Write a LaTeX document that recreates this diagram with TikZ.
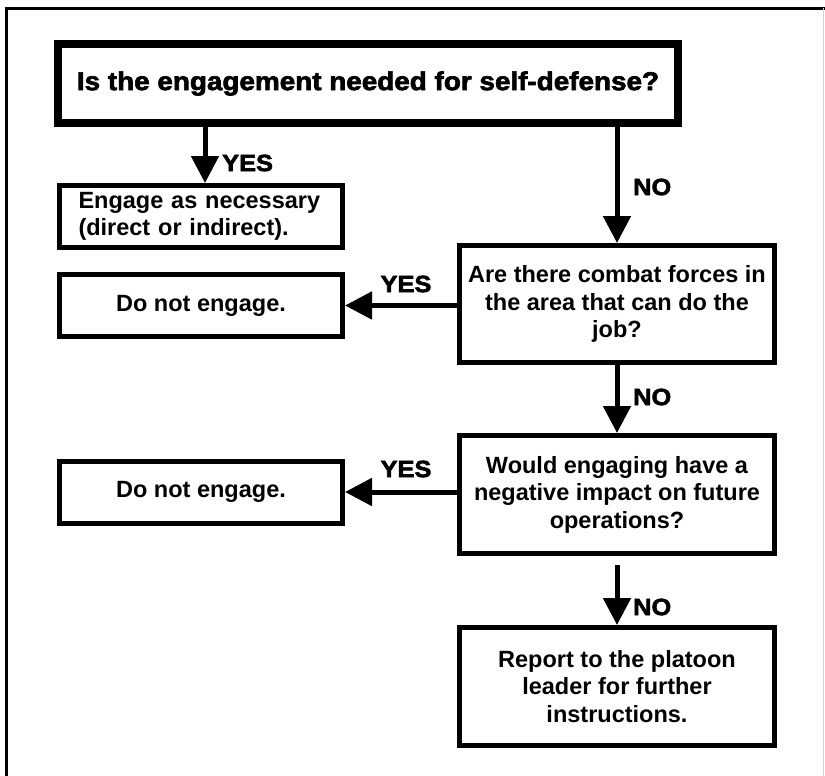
\documentclass[tikz,border=0pt]{standalone}
\usepackage{fontspec}
\setmainfont{Liberation Sans}
\newfontfamily\heavyfont{Liberation Sans}[BoldFeatures={FakeBold=2.5,FakeStretch=1.08}]
\usetikzlibrary{arrows.meta}
\begin{document}
\begin{tikzpicture}[x=1pt,y=-1pt,
  box/.style={draw,line width=5pt,minimum width=283pt,minimum height=62pt,inner sep=0pt,
    font=\fontsize{23.5}{27.5}\selectfont\bfseries},
  question/.style={box,minimum width=315pt,minimum height=117pt,align=center},
  arr/.style={line width=5pt,-{Triangle[length=27pt,width=27pt]}},
  lbl/.style={font=\fontsize{23.5}{26}\selectfont\heavyfont\bfseries,inner sep=0pt}]
\useasboundingbox (0,0) rectangle (825,776);
\draw[line width=3pt] (6.5,776) -- (6.5,8.5) -- (825,8.5);
\draw[gray!35,line width=1pt] (823.5,8.5) -- (823.5,776);

\node[box,line width=8pt,minimum width=620pt,minimum height=79pt,
  font=\fontsize{25.8}{28}\selectfont\heavyfont\bfseries] (self) at (368,83.5)
  {Is the engagement needed for self-defense?};
\node[box,text width=245pt,align=left] (engage) at (201,216.5)
  {Engage as necessary\\(direct or indirect).};
\node[question] (forces) at (617,304)
  {Are there combat forces in\\the area that can do the\\job?};
\node[box] (dont1) at (201,305.5) {Do not engage.};
\node[question,minimum height=118pt] (impact) at (617,494.5)
  {Would engaging have a\\negative impact on future\\operations?};
\node[box] (dont2) at (201,492) {Do not engage.};
\node[question,minimum height=118pt] (report) at (617,686.5)
  {Report to the platoon\\leader for further\\instructions.};

\draw[arr] (self.south -| 205,0) -- (engage.north -| 205,0);
\node[lbl,anchor=west] (yes1) at (222,163) {YES};
\draw[arr] (forces.north |- self.south) -- (forces.north);
\node[lbl,anchor=west] (no1) at (633,187) {NO};
\draw[arr] (forces.west |- dont1.east) -- (dont1.east);
\node[lbl] (yes2) at (406,284) {YES};
\draw[arr] (forces.south) -- (impact.north);
\node[lbl,anchor=west] (no2) at (633,397) {NO};
\draw[arr] (impact.west |- dont2.east) -- (dont2.east);
\node[lbl] (yes3) at (406,469) {YES};
\coordinate (gap) at (617,565);
\draw[arr] (gap) -- (report.north);
\node[lbl,anchor=west] (no3) at (633,607) {NO};
\end{tikzpicture}
\end{document}
